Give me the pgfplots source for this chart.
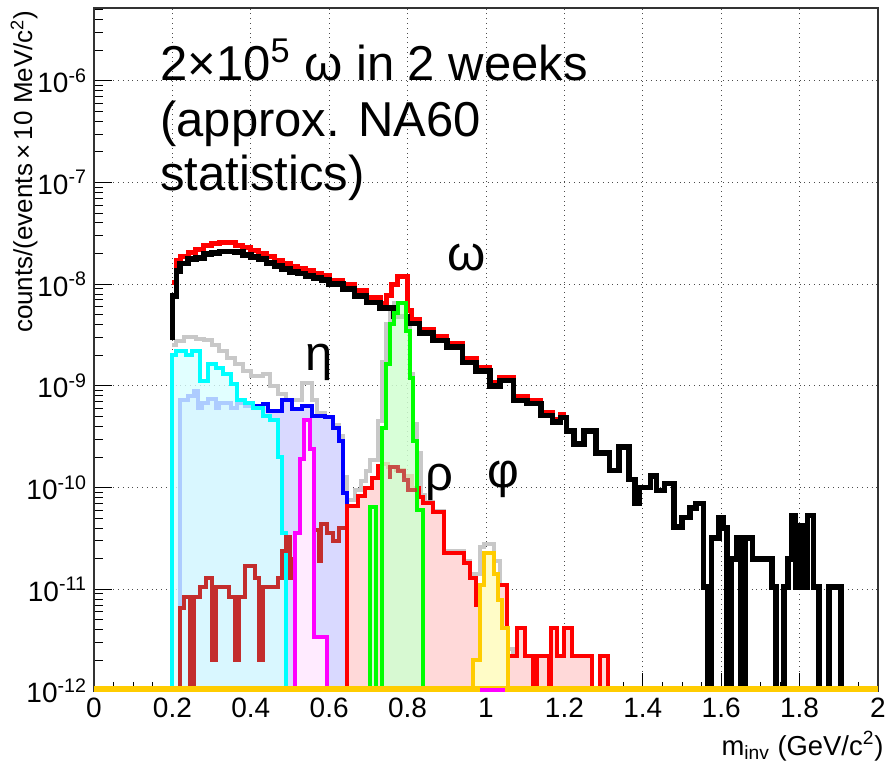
\documentclass[border=0pt]{standalone}
\usepackage{fontspec}
\setmainfont{Liberation Sans}
\usepackage{pgfplots}
\pgfplotsset{compat=1.18}
\definecolor{RootGray}{RGB}{200,200,200}
\definecolor{RootYellow}{RGB}{255,204,0}
\definecolor{RootDarkRed}{RGB}{195,45,45}
\definecolor{RootCyan}{RGB}{0,255,255}
\definecolor{RootMagenta}{RGB}{255,0,255}
\definecolor{RootGreen}{RGB}{0,255,0}
\definecolor{RootBlue}{RGB}{0,0,255}
\definecolor{RootRed}{RGB}{255,0,0}
\newcommand{\tickfont}{\fontsize{14}{16}\selectfont}
\newcommand{\bigfont}{\fontsize{24.5}{28}\selectfont}

\begin{document}
\begin{tikzpicture}
\begin{axis}[
  scale only axis, width=392pt, height=341.5pt,
  xmin=0, xmax=2, ymode=log, ymin=1e-12, ymax=5.2e-6,
  xtick={0,0.2,0.4,0.6,0.8,1,1.2,1.4,1.6,1.8,2},
  xticklabels={0,0.2,0.4,0.6,0.8,1,1.2,1.4,1.6,1.8,2},
  minor x tick num=3,
  ytick={1e-12,1e-11,1e-10,1e-9,1e-8,1e-7,1e-6},
  yticklabels={10\textsuperscript{-12},10\textsuperscript{-11},10\textsuperscript{-10},10\textsuperscript{-9},10\textsuperscript{-8},10\textsuperscript{-7},10\textsuperscript{-6}},
  minor ytick={2e-12,3e-12,4e-12,5e-12,6e-12,7e-12,8e-12,9e-12,
    2e-11,3e-11,4e-11,5e-11,6e-11,7e-11,8e-11,9e-11,
    2e-10,3e-10,4e-10,5e-10,6e-10,7e-10,8e-10,9e-10,
    2e-9,3e-9,4e-9,5e-9,6e-9,7e-9,8e-9,9e-9,
    2e-8,3e-8,4e-8,5e-8,6e-8,7e-8,8e-8,9e-8,
    2e-7,3e-7,4e-7,5e-7,6e-7,7e-7,8e-7,9e-7,
    2e-6,3e-6,4e-6,5e-6},
  tick align=inside, xtick pos=bottom, ytick pos=left,
  major tick length=9pt, minor tick length=4.5pt,
  tick style={black, line width=0.5pt},
  tick label style={font=\tickfont},
  grid=major, grid style={black!70, dotted, line width=0.5pt},
  axis line style={black!80, line width=0.6pt},
  const plot,
]
% summed components (grey)
\addplot[RootGray, line width=2pt] coordinates {
 (0.2,2.5e-9)(0.21,2.75e-9)(0.23,3.0e-9)(0.26,2.9e-9)(0.28,2.8e-9)(0.30,2.55e-9)
 (0.32,2.2e-9)(0.34,1.9e-9)(0.36,1.65e-9)(0.38,1.41e-9)(0.40,1.26e-9)(0.43,1.3e-9)
 (0.45,1.0e-9)(0.47,8.4e-10)(0.49,7.2e-10)(0.53,1.07e-9)(0.555,7.2e-10)(0.57,5.4e-10)
 (0.59,5e-10)(0.61,4.1e-10)(0.625,3.2e-10)(0.635,1.26e-10)(0.645,7.5e-11)(0.665,9.5e-11)
 (0.68,1.15e-10)(0.695,1.45e-10)(0.705,1.85e-10)(0.725,4.5e-10)(0.735,1.7e-9)(0.745,4.1e-9)
 (0.755,5.2e-9)(0.765,6.6e-9)(0.795,3.9e-9)(0.805,1.3e-9)(0.815,4.2e-10)(0.825,2.2e-10)
 (0.835,8.5e-11)(0.845,7.2e-11)(0.865,5.9e-11)(0.893,2.4e-11)(0.945,1.9e-11)(0.96,1.4e-11)
 (0.975,1.4e-11)(0.985,2.6e-11)(0.995,2.8e-11)(1.02,1.9e-11)(1.035,1.1e-11)(1.05,2.6e-12)(1.07,1e-14)};
% total (red)
\addplot[RootRed, line width=2.5pt] coordinates {
 (0.2,1.05e-8)(0.21,1.7e-8)(0.22,1.86e-8)(0.24,2.07e-8)(0.26,2.2e-8)(0.28,2.38e-8)(0.30,2.5e-8)
 (0.32,2.55e-8)(0.34,2.55e-8)(0.36,2.4e-8)(0.38,2.3e-8)(0.40,2.15e-8)(0.42,2.0e-8)(0.44,1.86e-8)
 (0.46,1.73e-8)(0.48,1.6e-8)(0.50,1.5e-8)(0.52,1.42e-8)(0.54,1.35e-8)(0.56,1.28e-8)(0.58,1.22e-8)
 (0.60,1.1e-8)(0.635,1.0e-8)(0.665,8.6e-9)(0.695,7.4e-9)(0.73,6.5e-9)(0.745,7.7e-9)(0.76,1.0e-8)
 (0.775,1.2e-8)(0.80,5.5e-9)(0.81,4.5e-9)(0.83,3.6e-9)(0.865,3.05e-9)(0.90,2.6e-9)(0.94,1.85e-9)
 (0.975,1.53e-9)(1.01,1.08e-9)(1.035,1.22e-9)(1.07,7.8e-10)(1.105,7.2e-10)(1.14,5.5e-10)
 (1.17,4.7e-10)(1.19,5.2e-10)(1.205,5.2e-10)};
% black
\addplot[black, line width=2.8pt] coordinates {
 (0.2,2.8e-9)(0.2,7.7e-9)(0.21,1.35e-8)(0.22,1.6e-8)(0.24,1.78e-8)(0.26,1.82e-8)(0.28,1.98e-8)
 (0.30,2.03e-8)(0.32,2.1e-8)(0.34,2.1e-8)(0.36,2.07e-8)(0.38,1.95e-8)(0.40,1.86e-8)(0.42,1.78e-8)
 (0.44,1.62e-8)(0.46,1.52e-8)(0.48,1.42e-8)(0.50,1.32e-8)(0.52,1.27e-8)(0.54,1.21e-8)(0.56,1.15e-8)
 (0.58,1.1e-8)(0.60,1.0e-8)(0.635,9e-9)(0.665,7.7e-9)(0.695,6.6e-9)(0.73,5.8e-9)(0.765,4.8e-9)
 (0.80,4.1e-9)(0.83,3.3e-9)(0.865,2.8e-9)(0.90,2.4e-9)(0.94,1.7e-9)(0.975,1.41e-9)(1.01,1.0e-9)
 (1.035,1.13e-9)(1.07,7.2e-10)(1.105,6.7e-10)(1.14,5.1e-10)(1.17,4.4e-10)(1.19,4.9e-10)
 (1.205,3.6e-10)(1.225,2.7e-10)(1.25,3.6e-10)(1.28,2.2e-10)(1.315,1.48e-10)(1.34,2.5e-10)
 (1.365,1.2e-10)(1.38,7e-11)(1.39,1.0e-10)(1.42,1.3e-10)(1.435,9.4e-11)(1.455,1.1e-10)
 (1.48,4.1e-11)(1.50,5.1e-11)(1.52,6.3e-11)(1.535,7e-11)(1.555,1.05e-11)(1.565,1e-14)
 (1.575,3.2e-11)(1.595,5.1e-11)(1.605,4e-11)(1.615,1e-14)(1.625,2e-11)(1.64,3.2e-11)(1.65,1e-14)
 (1.66,3.2e-11)(1.68,2e-11)(1.73,1.05e-11)(1.74,1e-14)(1.76,1.05e-11)(1.77,2e-11)(1.78,5.3e-11)
 (1.79,1.05e-11)(1.80,4.2e-11)(1.81,1.05e-11)(1.82,5.3e-11)(1.835,1.05e-11)(1.85,1e-14)
 (1.875,1.05e-11)(1.905,1e-14)};
% blue
\addplot[RootBlue, line width=2pt, fill=RootBlue!15] coordinates {
 (0.22,1e-14)(0.22,7.2e-10)(0.24,8e-10)(0.255,9e-10)(0.265,6.1e-10)(0.275,6.8e-10)(0.29,7.5e-10)
 (0.31,6.1e-10)(0.32,6.8e-10)(0.35,6.1e-10)(0.365,6.8e-10)(0.385,6.4e-10)(0.43,6.7e-10)
 (0.445,5.7e-10)(0.48,7.2e-10)(0.505,5.9e-10)(0.53,6.4e-10)(0.555,5.1e-10)(0.59,4.9e-10)
 (0.61,3.9e-10)(0.625,2.9e-10)(0.635,8.8e-11)(0.645,4.8e-11)(0.655,1e-14)};
% cyan
\addplot[RootCyan, line width=2pt, fill=RootCyan!15, fill opacity=0.8] coordinates {
 (0.2,1e-14)(0.2,2.0e-9)(0.21,2.2e-9)(0.235,2.0e-9)(0.25,2.2e-9)(0.27,1.13e-9)(0.29,1.65e-9)
 (0.31,1.5e-9)(0.33,1.32e-9)(0.35,1.05e-9)(0.365,7.2e-10)(0.385,6.8e-10)(0.405,6.1e-10)
 (0.43,5.1e-10)(0.45,4.6e-10)(0.47,2.0e-10)(0.48,3.6e-11)(0.49,1e-14)
 (0.526,1e-14)(0.526,3.3e-11)(0.546,1e-14)};
% dark red, low part
\addplot[RootDarkRed, line width=2pt] coordinates {
 (0.22,1e-14)(0.22,6.6e-12)(0.23,8.4e-12)(0.245,1e-14)(0.255,8.4e-12)(0.27,1.05e-11)(0.285,1.3e-11)
 (0.30,2e-12)(0.31,1.05e-11)(0.33,1.05e-11)(0.345,8.4e-12)(0.36,2e-12)(0.37,8.4e-12)(0.385,1.7e-11)
 (0.41,1.3e-11)(0.42,2e-12)(0.43,1.05e-11)(0.45,1.05e-11)(0.47,1.3e-11)(0.48,2.4e-11)(0.49,3.3e-11)
 (0.50,1.3e-11)(0.51,2e-11)(0.53,2.4e-11)(0.55,2.8e-11)(0.56,3.8e-11)(0.575,1.9e-11)(0.58,4.4e-11)
 (0.595,3.6e-11)(0.61,3e-11)(0.625,4e-11)(0.64,4e-11)};
% red with fill
\addplot[RootRed, line width=2pt, fill=RootRed!15] coordinates {
 (0.645,1e-14)(0.645,6.6e-11)(0.674,8.3e-11)(0.691,1e-10)(0.708,1.23e-10)(0.725,1.65e-10)
 (0.735,1.7e-10)(0.75,1.6e-10)(0.77,1.5e-10)(0.79,1.3e-10)(0.81,1.0e-10)(0.83,8e-11)(0.84,7e-11)
 (0.865,5.7e-11)(0.893,2.3e-11)(0.945,1.8e-11)(0.96,1.3e-11)(0.975,7e-12)(0.99,1.1e-11)
 (1.053,2.2e-12)(1.08,4.2e-12)(1.10,2.2e-12)(1.12,1e-14)(1.13,2.2e-12)(1.16,1e-14)(1.165,4.2e-12)
 (1.18,2.2e-12)(1.20,4.2e-12)(1.22,2.2e-12)(1.27,1e-14)(1.29,2.2e-12)(1.31,1e-14)};
% magenta
\addplot[RootMagenta, line width=2pt, fill=RootMagenta!8] coordinates {
 (0.513,1e-14)(0.513,3.6e-11)(0.525,1.9e-10)(0.535,4.6e-10)(0.55,2.4e-10)(0.56,3.4e-12)(0.595,1e-14)};
% green
\addplot[RootGreen, line width=2pt, fill=RootGreen!18, fill opacity=0.85] coordinates {
 (0.705,1e-14)(0.705,6.4e-11)(0.72,1e-14)(0.735,3.9e-10)(0.745,1.65e-9)(0.755,4.1e-9)(0.765,5.2e-9)
 (0.775,6.6e-9)(0.795,3.5e-9)(0.805,1.2e-9)(0.815,2.9e-10)(0.825,6e-11)(0.84,1e-14)};
% dark red, peak part seen through the green
\addplot[RootDarkRed, line width=2pt, opacity=0.8] coordinates {
 (0.75,1.26e-10)(0.755,1.6e-10)(0.775,1.45e-10)(0.79,1.2e-10)(0.80,9.4e-11)(0.823,9.4e-11)};
% yellow
\addplot[RootYellow, line width=2pt, fill=yellow!22] coordinates {
 (0.968,1e-14)(0.968,2e-12)(0.985,1.1e-11)(0.995,2.3e-11)(1.02,1.4e-11)(1.03,7.8e-12)
 (1.04,4.2e-12)(1.055,1e-14)};
\addplot[RootYellow, line width=3pt] coordinates {(0,1.04e-12)(2,1.04e-12)};
\addplot[RootMagenta, line width=2.5pt] coordinates {(0.985,1.02e-12)(1.048,1.02e-12)};

\node[anchor=base west, inner sep=0pt, font=\bigfont] at (axis cs:0.168,1e-6) {2×10\textsuperscript{5} ω in 2 weeks};
\node[anchor=base west, inner sep=0pt, font=\bigfont] at (axis cs:0.168,2.86e-7) {(approx. NA60};
\node[anchor=base west, inner sep=0pt, font=\bigfont] at (axis cs:0.168,8.3e-8) {statistics)};
\node[anchor=base west, inner sep=0pt, font=\bigfont] at (axis cs:0.90,1.36e-8) {ω};
\node[anchor=base west, inner sep=0pt, font=\bigfont] at (axis cs:0.538,1.41e-9) {η};
\node[anchor=base west, inner sep=0pt, font=\bigfont] at (axis cs:0.844,9.4e-11) {ρ};
\node[anchor=base west, inner sep=0pt, font=\bigfont] at (axis cs:1.003,1e-10) {φ};

\coordinate (bl) at (rel axis cs:0,0);
\coordinate (tr) at (rel axis cs:1,1);
\coordinate (tl) at (rel axis cs:0,1);
\coordinate (br) at (rel axis cs:1,0);
\end{axis}
\node[rotate=90, anchor=east, inner sep=0pt, font=\fontsize{13}{15}\selectfont]
  at ([xshift=-35pt,yshift=-1pt]tl) {counts/(events\,×\,10 MeV/c\textsuperscript{2})};
\node[anchor=base east, inner sep=0pt, font=\fontsize{13.7}{16}\selectfont]
  at ([xshift=3pt,yshift=-32pt]br) {m\textsubscript{inv} (GeV/c\textsuperscript{2})};
\pgfresetboundingbox
\path[use as bounding box] ([shift={(-47pt,-38pt)}]bl) rectangle ([shift={(5.5pt,4pt)}]tr);
\end{tikzpicture}
\end{document}
